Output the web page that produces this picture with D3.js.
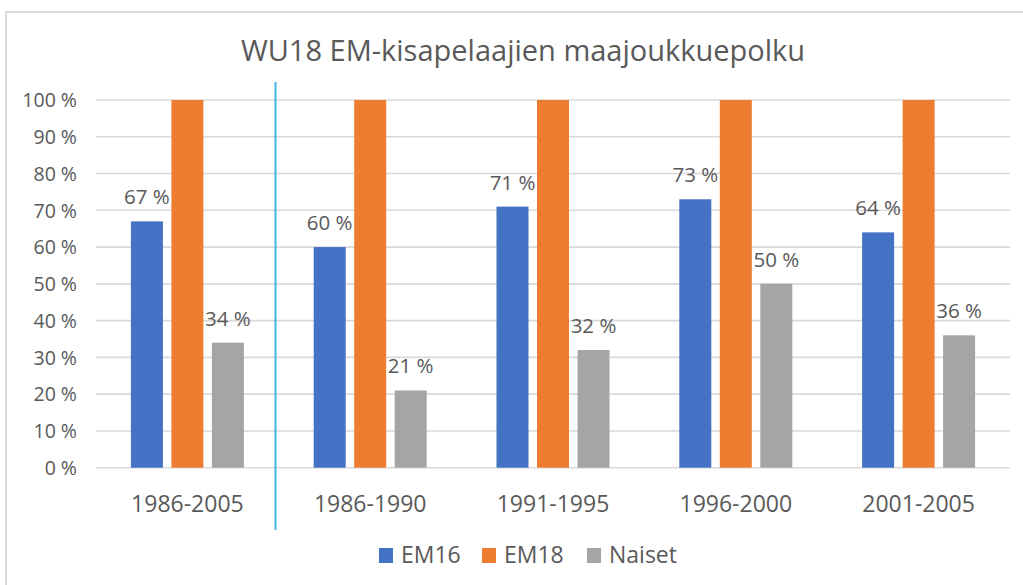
<!DOCTYPE html>
<html>
<head>
<meta charset="utf-8">
<script src="https://cdn.jsdelivr.net/npm/d3@7"></script>
<style>
  html, body { margin: 0; padding: 0; background: #ffffff; }
  svg { display: block; font-family: "Open Sans", Lato, sans-serif; }
</style>
</head>
<body>
<svg id="chart" width="1023" height="585"></svg>
<script>
const categories = ["1986-2005", "1986-1990", "1991-1995", "1996-2000", "2001-2005"];
const seriesNames = ["EM16", "EM18", "Naiset"];
const em16 = [67, 60, 71, 73, 64];
const em18 = [100, 100, 100, 100, 100];
const naiset = [34, 21, 32, 50, 36];
const yTicks = [0, 10, 20, 30, 40, 50, 60, 70, 80, 90, 100];
const colors = ["#4472C4", "#ED7D31", "#A5A5A5"];
const labelled = [true, false, true];
const title = "WU18 EM-kisapelaajien maajoukkuepolku";

const seriesValues = [em16, em18, naiset];
const svg = d3.select("#chart");
const FONT = "'Open Sans', Lato, sans-serif";

// frame (chart area border, cut at right/bottom)
svg.append("path")
  .attr("d", "M6,585 L6,12 L1023,12")
  .attr("fill", "none").attr("stroke", "#d9d9d9").attr("stroke-width", 2);

const plotLeft = 96, plotRight = 1010, plotTop = 100, plotBottom = 467.7;

const x = d3.scaleBand().domain(categories).range([plotLeft, plotRight]).padding(0);
const y = d3.scaleLinear().domain([0, 100]).range([plotBottom, plotTop]);

// title
svg.append("text")
  .attr("x", 523).attr("y", 61)
  .attr("text-anchor", "middle")
  .attr("fill", "#595959")
  .style("font-size", "29px")
  .text(title);

// gridlines
svg.append("g").selectAll("line").data(yTicks).join("line")
  .attr("x1", plotLeft).attr("x2", plotRight)
  .attr("y1", d => y(d)).attr("y2", d => y(d))
  .attr("stroke", "#d9d9d9").attr("stroke-width", 1.6);

// y axis labels
const yAxis = d3.axisLeft(y).tickValues(yTicks).tickSize(0).tickPadding(0)
  .tickFormat(d => d + " %");
const gy = svg.append("g").attr("transform", `translate(${77},0)`).call(yAxis);
gy.select(".domain").remove();
gy.selectAll("text")
  .attr("fill", "#595959")
  .style("font-size", "19.5px")
  .style("font-family", FONT)
  .attr("dy", "0.35em");

// x axis labels
const xAxis = d3.axisBottom(x).tickSize(0).tickPadding(0);
const gx = svg.append("g").attr("transform", `translate(0,${plotBottom})`).call(xAxis);
gx.select(".domain").remove();
gx.selectAll("text")
  .attr("fill", "#595959")
  .attr("y", 44).attr("dy", 0)
  .style("font-size", "23px")
  .style("font-family", FONT);

// bars
const barW = 32, gap = 8.5;
const inner = d3.scaleBand().domain(seriesNames)
  .range([-(barW * 1.5 + gap), barW * 1.5 + gap]).paddingInner(gap / (barW + gap)).paddingOuter(0);

seriesNames.forEach((s, si) => {
  const g = svg.append("g");
  g.selectAll("rect").data(categories).join("rect")
    .attr("x", (c) => x(c) + x.bandwidth() / 2 + inner(s))
    .attr("y", (c, i) => y(seriesValues[si][i]))
    .attr("width", inner.bandwidth())
    .attr("height", (c, i) => y(0) - y(seriesValues[si][i]))
    .attr("fill", colors[si]);
  if (labelled[si]) {
    g.selectAll("text").data(categories).join("text")
      .attr("x", (c) => x(c) + x.bandwidth() / 2 + inner(s) + inner.bandwidth() / 2)
      .attr("y", (c, i) => y(seriesValues[si][i]) - 17)
      .attr("text-anchor", "middle")
      .attr("fill", "#595959")
      .style("font-size", "20.5px")
      .text((c, i) => seriesValues[si][i] + " %");
  }
});

// separator line
svg.append("line")
  .attr("x1", 275.5).attr("x2", 275.5)
  .attr("y1", 82).attr("y2", 530)
  .attr("stroke", "#41b6e6").attr("stroke-width", 2);

// legend
const legendX = [379, 482, 587];
const lg = svg.append("g");
seriesNames.forEach((s, i) => {
  lg.append("rect").attr("x", legendX[i]).attr("y", 548)
    .attr("width", 14).attr("height", 15).attr("fill", colors[i]);
  lg.append("text").attr("x", legendX[i] + 22).attr("y", 563)
    .attr("fill", "#595959").style("font-size", "23px").text(s);
});
</script>
</body>
</html>
